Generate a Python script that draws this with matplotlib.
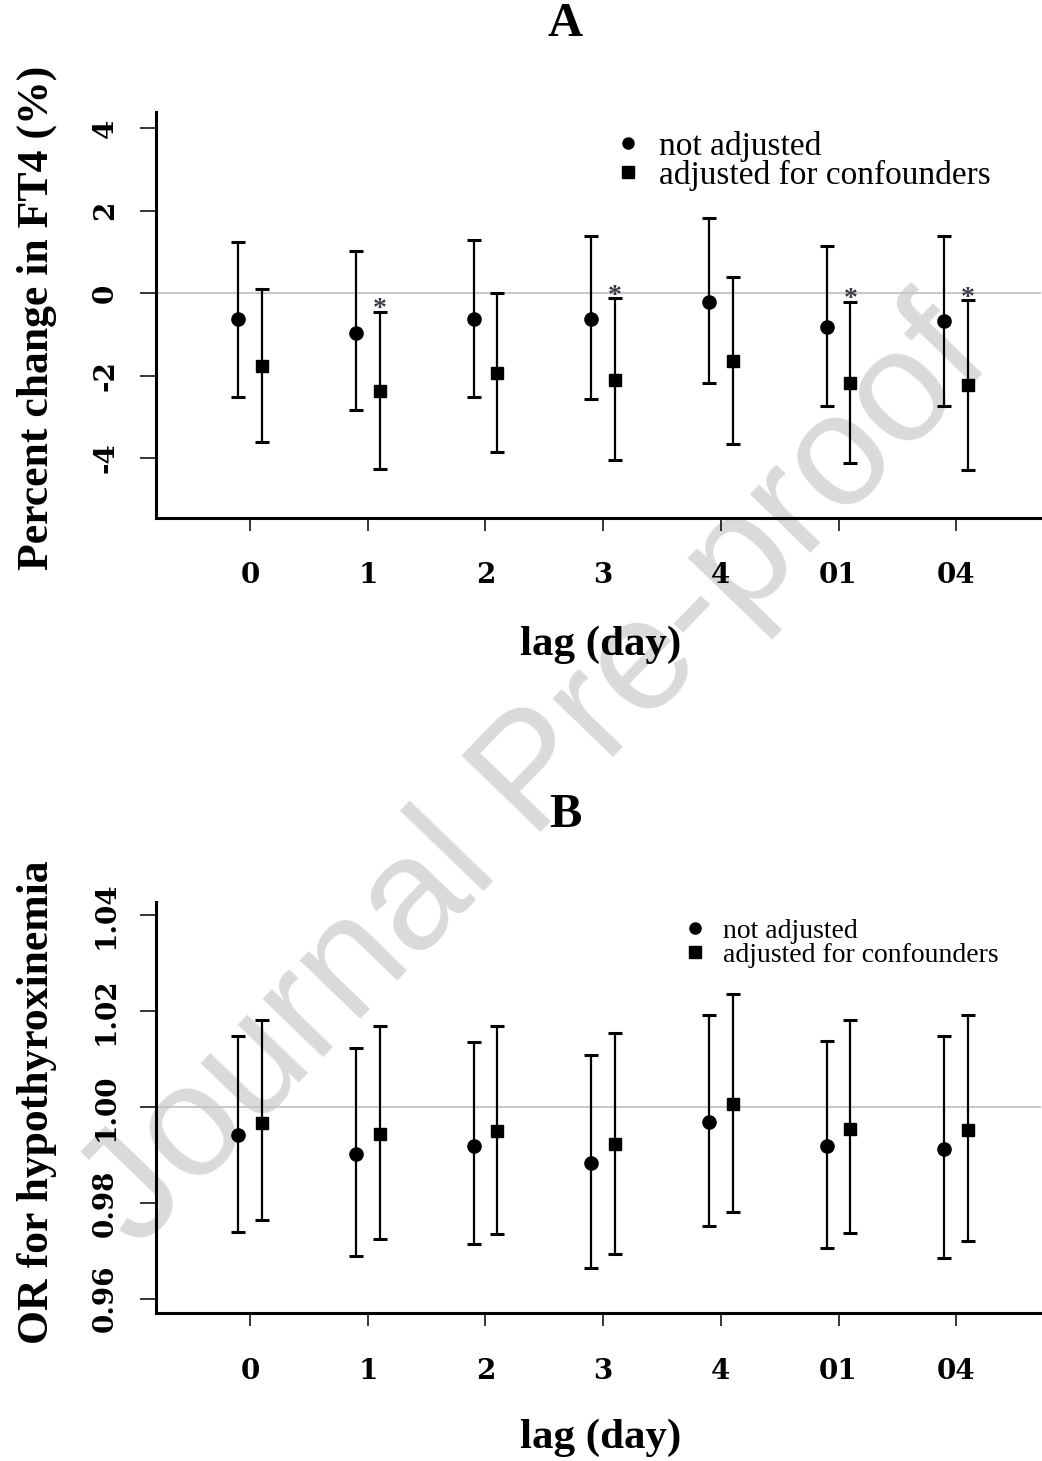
import numpy as np
import matplotlib
matplotlib.use("Agg")
import matplotlib.pyplot as plt
from matplotlib.lines import Line2D

# ---------------- data ----------------
lags = ["0", "1", "2", "3", "4", "01", "04"]

# panel A: percent change in FT4 (%)
a_est_raw = [-0.64, -0.96, -0.64, -0.64, -0.21, -0.83, -0.68]
a_lo_raw  = [-2.53, -2.84, -2.53, -2.57, -2.18, -2.74, -2.74]
a_hi_raw  = [1.23, 1.01, 1.28, 1.38, 1.82, 1.15, 1.38]
a_est_adj = [-1.78, -2.38, -1.94, -2.10, -1.64, -2.19, -2.24]
a_lo_adj  = [-3.62, -4.26, -3.85, -4.04, -3.67, -4.12, -4.30]
a_hi_adj  = [0.09, -0.45, 0.01, -0.13, 0.38, -0.21, -0.18]
a_sig     = [False, True, False, True, False, True, True]

# panel B: OR for hypothyroxinemia
b_est_raw = [0.9941, 0.9903, 0.9918, 0.9884, 0.9968, 0.9918, 0.9912]
b_lo_raw  = [0.9740, 0.9689, 0.9714, 0.9664, 0.9752, 0.9705, 0.9686]
b_hi_raw  = [1.0148, 1.0123, 1.0135, 1.0109, 1.0193, 1.0139, 1.0148]
b_est_adj = [0.9967, 0.9944, 0.9950, 0.9922, 1.0007, 0.9955, 0.9953]
b_lo_adj  = [0.9764, 0.9724, 0.9736, 0.9694, 0.9782, 0.9737, 0.9720]
b_hi_adj  = [1.0182, 1.0170, 1.0170, 1.0155, 1.0236, 1.0181, 1.0193]

SERIF = ["Liberation Serif", "DejaVu Serif"]
TICKFONT = ["DejaVu Serif"]
plt.rcParams["font.family"] = SERIF


def draw_panel(ax, est_raw, lo_raw, hi_raw, est_adj, lo_adj, hi_adj,
               ylim, yticks, yfmt, ref, sig=None, star_dy=0.0):
    x = np.arange(1, len(lags) + 1)
    ax.set_facecolor("none")
    ax.axhline(ref, color="#c4c4c4", lw=1.3, zorder=0)

    est_raw, lo_raw, hi_raw = map(np.asarray, (est_raw, lo_raw, hi_raw))
    est_adj, lo_adj, hi_adj = map(np.asarray, (est_adj, lo_adj, hi_adj))
    ax.errorbar(x - 0.1, est_raw, yerr=[est_raw - lo_raw, hi_raw - est_raw],
                fmt="o", color="black", ms=9.5, elinewidth=1.6,
                capsize=5, capthick=2.2)
    ax.errorbar(x + 0.1, est_adj, yerr=[est_adj - lo_adj, hi_adj - est_adj],
                fmt="s", color="black", ms=9, elinewidth=1.6,
                capsize=5, capthick=2.2)
    if sig is not None:
        for xi, hi, s in zip(x, hi_adj, sig):
            if s:
                ax.text(xi + 0.1, hi + star_dy, "*", ha="center",
                        va="center", fontsize=20, fontweight="bold",
                        color="#3c3c48")

    ax.set_xlim(0.2, 7.72)
    ax.set_ylim(*ylim)
    ax.set_xticks(x)
    ax.set_xticklabels(lags)
    ax.set_yticks(yticks)
    ax.set_yticklabels([yfmt.format(v) for v in yticks])
    for lab in ax.get_xticklabels() + ax.get_yticklabels():
        lab.set_family(TICKFONT)
        lab.set_fontweight("bold")
        lab.set_fontsize(20)
    for lab in ax.get_yticklabels():
        lab.set_rotation(90)
        lab.set_va("center")
    ax.tick_params(axis="x", length=9, width=1.1, pad=23)
    ax.tick_params(axis="y", length=11.5, width=1.1, pad=15)
    for side in ("top", "right"):
        ax.spines[side].set_visible(False)
    for side in ("left", "bottom"):
        ax.spines[side].set_linewidth(2.2)


fig = plt.figure(figsize=(10.42, 14.61), dpi=100)

# watermark behind everything
fig.text(0.515, 0.468, "Journal Pre-proof", rotation=46, ha="center",
         va="center", fontsize=115, color="#dadada",
         family=["Liberation Sans", "DejaVu Sans"], zorder=-5)

axA = fig.add_axes([0.1497, 0.6455, 0.8493, 0.2779])
draw_panel(axA, a_est_raw, a_lo_raw, a_hi_raw, a_est_adj, a_lo_adj, a_hi_adj,
           (-5.45, 4.39), [-4, -2, 0, 2, 4], "{:.0f}", 0, sig=a_sig,
           star_dy=0.05)

axB = fig.add_axes([0.1497, 0.1011, 0.8493, 0.2817])
draw_panel(axB, b_est_raw, b_lo_raw, b_hi_raw, b_est_adj, b_lo_adj, b_hi_adj,
           (0.95696, 1.04287), [0.96, 0.98, 1.00, 1.02, 1.04], "{:.2f}", 1.0)

handles = [Line2D([], [], marker="o", ls="none", color="black", ms=8),
           Line2D([], [], marker="s", ls="none", color="black", ms=8)]
labels = ["not adjusted", "adjusted for confounders"]
axA.legend(handles, labels, loc="upper left", bbox_to_anchor=(0.518, 0.954),
           frameon=False, fontsize=24, borderpad=0, borderaxespad=0,
           handlelength=0.8, handletextpad=0.53, labelspacing=-0.05)
axB.legend(handles, labels, loc="upper left", bbox_to_anchor=(0.597, 0.96),
           frameon=False, fontsize=20, borderpad=0, borderaxespad=0,
           handlelength=0.8, handletextpad=0.6, labelspacing=-0.05)

# panel letters and axis titles
fig.text(0.5427, 1 - 24 / 1461, "A", ha="center", va="center",
         fontsize=35, fontweight="bold")
fig.text(0.5427, 1 - 815 / 1461, "B", ha="center", va="center",
         fontsize=35, fontweight="bold")
fig.text(601 / 1042, 1 - 655 / 1461, "lag (day)", ha="center",
         va="baseline", fontsize=31, fontweight="bold")
fig.text(601 / 1042, 1 - 1448 / 1461, "lag (day)", ha="center",
         va="baseline", fontsize=31, fontweight="bold")
fig.text(48 / 1042, 1 - 317.5 / 1461, "Percent change in FT4 (%)",
         rotation=90, rotation_mode="anchor", ha="center", va="baseline",
         fontsize=31.5, fontweight="bold")
fig.text(48 / 1042, 1 - 1102 / 1461, "OR for hypothyroxinemia",
         rotation=90, rotation_mode="anchor", ha="center", va="baseline",
         fontsize=31.5, fontweight="bold")

fig.savefig("out.png", dpi=100)
